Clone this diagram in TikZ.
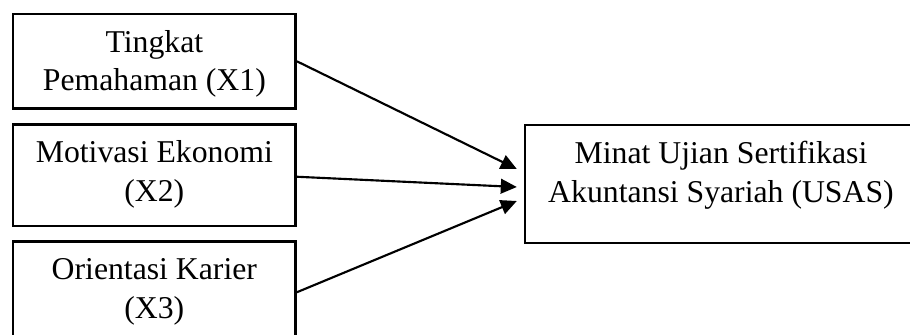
\documentclass[tikz,border=0pt]{standalone}
\usepackage{fontspec}
\setmainfont{Liberation Serif}
\usetikzlibrary{arrows.meta,calc}
\begin{document}
\begin{tikzpicture}[x=0.75pt,y=-0.75pt,
  box/.style={draw, line width=1.8pt, inner sep=0pt, rectangle},
  lbl/.style={anchor=base, inner sep=0pt, font=\fontsize{23.8pt}{28.8pt}\selectfont},
  conn/.style={line width=1.6pt, -{Triangle[length=12pt,width=11pt]}}]
\useasboundingbox (0,0) rectangle (910,335);
\clip (0,0) rectangle (910,335);
% boxes
\node[box, minimum width=212pt, minimum height=70.5pt] (b1) at (154.35,61.3) {};
\node[box, minimum width=212pt, minimum height=76.4pt] (b2) at (154.35,175.25) {};
\node[box, minimum width=212pt, minimum height=76.4pt] (b3) at (154.35,292.25) {};
\node[box, minimum width=294pt, minimum height=88.5pt] (rb) at (721,184) {};
% labels
\node[lbl] (t1) at ($(b1.north)+(0,39.5)$) {\begin{tabular}[t]{@{}c@{}}Tingkat\\Pemahaman (X1)\end{tabular}};
\node[lbl] (t2) at ($(b2.north)+(0,39.5)$) {\begin{tabular}[t]{@{}c@{}}Motivasi Ekonomi\\(X2)\end{tabular}};
\node[lbl] (t3) at ($(b3.north)+(0,39.5)$) {\begin{tabular}[t]{@{}c@{}}Orientasi Karier\\(X3)\end{tabular}};
\node[lbl] (tr) at ($(rb.north)+(0,40)$) {\begin{tabular}[t]{@{}c@{}}Minat Ujian Sertifikasi\\Akuntansi Syariah (USAS)\end{tabular}};
% arrow ends
\coordinate (e1) at ($(rb.west)+(-7,-15)$);
\coordinate (e2) at ($(rb.west)+(-7,3)$);
\coordinate (e3) at ($(rb.west)+(-7,17)$);
\coordinate (s2) at ($(b2.east)+(0,1.5)$);
% connectors
\draw[conn] (b1.east) -- (e1);
\draw[conn] (s2) -- (e2);
\draw[conn] (b3.east) -- (e3);
\end{tikzpicture}
\end{document}
